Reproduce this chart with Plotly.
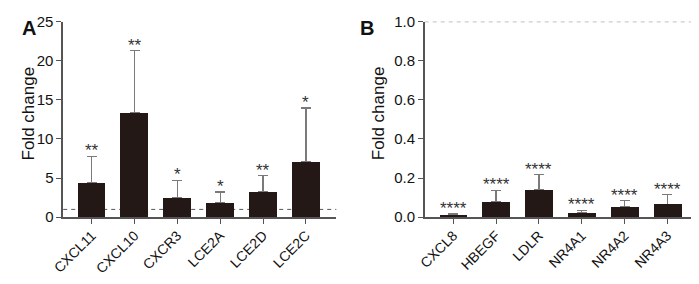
import plotly.graph_objects as go

# Panel A data
genes_a = ["CXCL11", "CXCL10", "CXCR3", "LCE2A", "LCE2D", "LCE2C"]
fold_a = [4.47, 13.42, 2.45, 1.87, 3.22, 7.12]
upper_a = [7.77, 21.3, 4.74, 3.22, 5.32, 13.96]
stars_a = ["**", "**", "*", "*", "**", "*"]

# Panel B data
genes_b = ["CXCL8", "HBEGF", "LDLR", "NR4A1", "NR4A2", "NR4A3"]
fold_b = [0.011, 0.080, 0.143, 0.025, 0.056, 0.067]
upper_b = [0.017, 0.138, 0.217, 0.036, 0.084, 0.115]
stars_b = ["****"] * 6

yticks_a = [0, 5, 10, 15, 20, 25]
yticks_b = [0.0, 0.2, 0.4, 0.6, 0.8, 1.0]

FONT = "Arial, Liberation Sans, sans-serif"
BAR = "#231815"
AX = "#555555"
ERR = "#7a7a7a"
# page is 699x284; browser body margin of 8px surrounds the figure
OFF = 8
W, H = 699 - 2 * OFF, 284 - 2 * OFF

def px_x(p):
    return (p - OFF) / W

def px_y(p):
    return (H - (p - OFF)) / H

fig = go.Figure()
for genes, vals, ups, xa, ya in [(genes_a, fold_a, upper_a, "x", "y"),
                                 (genes_b, fold_b, upper_b, "x2", "y2")]:
    # error bars drawn first (transparent bars), so solid bars hide the lower cap
    fig.add_trace(go.Bar(
        x=list(range(len(genes))), y=vals, width=0.65,
        marker=dict(color="rgba(0,0,0,0)", line=dict(width=0)),
        error_y=dict(type="data", symmetric=False,
                     array=[u - v for u, v in zip(ups, vals)],
                     arrayminus=[0] * len(vals),
                     color=ERR, thickness=1.2, width=5),
        xaxis=xa, yaxis=ya, showlegend=False, hoverinfo="skip"))
    fig.add_trace(go.Bar(
        x=list(range(len(genes))), y=vals, width=0.65,
        marker=dict(color=BAR, line=dict(width=0)),
        xaxis=xa, yaxis=ya, showlegend=False))

ydom = [px_y(223.5), px_y(13)]
common_x = dict(showline=True, linecolor=AX, linewidth=1.5, ticks="outside",
                ticklen=5, tickwidth=1.2, tickcolor=AX, tickangle=-45,
                showgrid=False, zeroline=False, ticklabelstandoff=-2,
                ticklabeloverflow="allow",
                tickfont=dict(family=FONT, size=14, color="#111111"))
common_y = dict(showline=True, linecolor=AX, linewidth=1.5, ticks="outside",
                ticklen=5, tickwidth=1.2, tickcolor=AX,
                showgrid=False, zeroline=False, domain=ydom,
                ticklabeloverflow="allow",
                tickfont=dict(family=FONT, size=15, color="#111111"))

b_right = min(697, OFF + W)
b_units = (b_right - 420) / 43.6 - 0.665

fig.update_layout(
    width=W, height=H, margin=dict(l=0, r=0, t=0, b=0),
    paper_bgcolor="white", plot_bgcolor="white",
    barmode="overlay", bargap=0,
    xaxis=dict(common_x, domain=[px_x(52), px_x(330)], range=[-0.665, 5.71],
               tickvals=list(range(6)), ticktext=genes_a, anchor="y"),
    yaxis=dict(common_y, range=[0, 25], tickvals=yticks_a,
               ticktext=[str(t) for t in yticks_a], anchor="x"),
    xaxis2=dict(common_x, domain=[px_x(420), px_x(b_right)], range=[-0.665, b_units],
                tickvals=list(range(6)), ticktext=genes_b, anchor="y2"),
    yaxis2=dict(common_y, range=[0, 1.0], tickvals=yticks_b,
                ticktext=[f"{t:.1f}" for t in yticks_b], anchor="x2"),
)

shapes = [
    dict(type="line", xref="x domain", yref="y", x0=0, x1=1, y0=1, y1=1,
         line=dict(color=AX, width=1, dash="4px,4px"), layer="below"),
    dict(type="line", xref="x2 domain", yref="y2", x0=0, x1=1, y0=1, y1=1,
         line=dict(color=AX, width=1, dash="4px,4px"), layer="below"),
]
fig.update_layout(shapes=shapes)

ann = []
for i, (u, s) in enumerate(zip(upper_a, stars_a)):
    ann.append(dict(x=i, y=u, xref="x", yref="y", text=s, showarrow=False,
                    yanchor="bottom", yshift=-6,
                    font=dict(family=FONT, size=17, color="#333333")))
for i, (u, s) in enumerate(zip(upper_b, stars_b)):
    ann.append(dict(x=i, y=u, xref="x2", yref="y2", text=s, showarrow=False,
                    yanchor="bottom", yshift=-6,
                    font=dict(family=FONT, size=17, color="#333333")))
# axis titles
for xp in (17, 373):
    ann.append(dict(x=px_x(xp), y=px_y(112), xref="paper", yref="paper",
                    text="Fold change", textangle=-90, showarrow=False,
                    xanchor="center", yanchor="middle",
                    font=dict(family=FONT, size=17, color="#111111")))
# panel letters
ann.append(dict(x=0, y=1, xref="paper", yref="paper", text="<b>A</b>",
                showarrow=False, xanchor="left", yanchor="top", yshift=2,
                font=dict(family=FONT, size=20, color="#111111")))
ann.append(dict(x=px_x(352), y=1, xref="paper", yref="paper", text="<b>B</b>",
                showarrow=False, xanchor="left", yanchor="top", yshift=2,
                font=dict(family=FONT, size=20, color="#111111")))
fig.update_layout(annotations=ann)

fig.write_html("out.html", config={"displayModeBar": False})
